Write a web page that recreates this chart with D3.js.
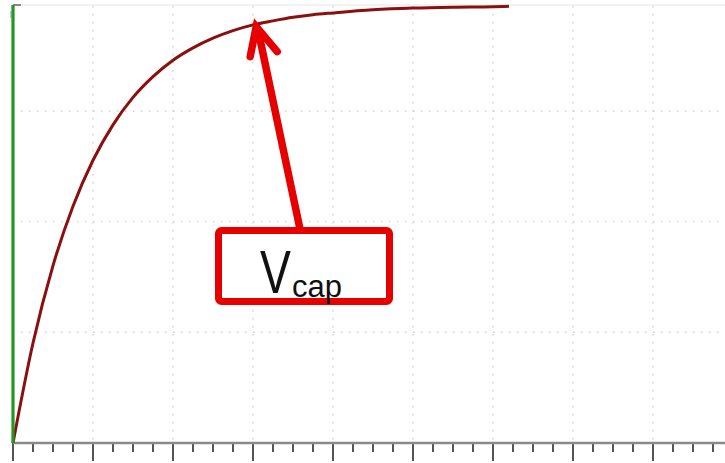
<!DOCTYPE html>
<html><head><meta charset="utf-8">
<script src="https://cdn.jsdelivr.net/npm/d3@7"></script>
<style>html,body{margin:0;padding:0;background:#fff;overflow:hidden}</style>
</head><body>
<svg id="c" width="725" height="463"></svg>
<script>
// time in major-division units, voltage as fraction of full scale
const times = [0,0.25,0.5,0.75,1,1.25,1.5,1.75,2,2.25,2.5,2.75,3,3.25,3.5,3.75,4,4.5,5,5.5,6,6.2];
const vcap  = [0,0.226,0.401,0.535,0.639,0.719,0.781,0.828,0.865,0.893,0.915,0.932,0.945,0.954,0.962,0.968,0.972,0.979,0.983,0.985,0.986,0.987];
const xMajor = [1,2,3,4,5,6,7,8];
const yGrid = [0.25,0.5,0.75];
const labelMain = "V";
const labelSub = "cap";
const arrowTip = {t:3.04, v:vcap[12]+0.005};

const svg = d3.select("#c");
const x = d3.scaleLinear().domain([0,9]).range([13,733]);
const y = d3.scaleLinear().domain([0,1]).range([443,0.5]);
const yTop = 5;

// top border
svg.append("line").attr("x1",x(0)).attr("x2",725).attr("y1",yTop).attr("y2",yTop)
  .attr("stroke","#e4e4e4").attr("stroke-width",1);

// dotted grid
svg.append("g").selectAll("line").data(xMajor).join("line")
  .attr("x1",d=>x(d)).attr("x2",d=>x(d)).attr("y1",yTop+1).attr("y2",y(0)-2)
  .attr("stroke","#c8c8c8").attr("stroke-width",1.2).attr("stroke-dasharray","1.5,6.5");
svg.append("g").selectAll("line").data(yGrid).join("line")
  .attr("x1",x(0)+8).attr("x2",725).attr("y1",d=>y(d)).attr("y2",d=>y(d))
  .attr("stroke","#c8c8c8").attr("stroke-width",1.2).attr("stroke-dasharray","1.5,6.5");

// bottom axis
const axisG = svg.append("g").attr("transform",`translate(0,${y(0)})`);
const minor = d3.range(0,9.01,0.25);
axisG.selectAll("line.t").data(minor).join("line")
  .attr("x1",d=>x(d)).attr("x2",d=>x(d)).attr("y1",0)
  .attr("y2",d=>Math.abs(d-Math.round(d))<1e-6?18:9)
  .attr("stroke","#555").attr("stroke-width",2);
axisG.append("line").attr("x1",x(0)).attr("x2",725).attr("y1",0).attr("y2",0)
  .attr("stroke","#8a8a8a").attr("stroke-width",2.5);

// curve
const pts = times.map((t,i)=>[t,vcap[i]]);
svg.append("path").datum(pts)
  .attr("d",d3.line().x(d=>x(d[0])).y(d=>y(d[1])).curve(d3.curveMonotoneX))
  .attr("fill","none").attr("stroke","#8a0f0f").attr("stroke-width",3);

// green vertical axis
svg.append("line").attr("x1",x(0)).attr("x2",x(0)).attr("y1",yTop).attr("y2",y(0))
  .attr("stroke","#1f9a1f").attr("stroke-width",3.2);
svg.append("line").attr("x1",x(0)).attr("x2",x(0)+8).attr("y1",yTop).attr("y2",yTop)
  .attr("stroke","#666").attr("stroke-width",1.5);
svg.append("line").attr("x1",x(0)-2).attr("x2",x(0)-2).attr("y1",11).attr("y2",18)
  .attr("stroke","#888").attr("stroke-width",1);

// annotation arrow
const tipX = x(arrowTip.t), tipY = y(arrowTip.v)+2;
const red = "#e60000";
const ann = svg.append("g").attr("stroke",red).attr("stroke-width",7.5).attr("stroke-linecap","round").attr("fill","none");
ann.append("line").attr("x1",300).attr("y1",229).attr("x2",tipX+2).attr("y2",tipY+6);
ann.append("path").attr("d",`M${tipX-6},${tipY+32} L${tipX},${tipY+2} L${tipX+21},${tipY+27}`)
  .attr("stroke-linejoin","miter");

// box
svg.append("rect").attr("x",218.5).attr("y",230.5).attr("width",171).attr("height",71).attr("rx",3)
  .attr("fill","#fff").attr("stroke",red).attr("stroke-width",7);
svg.append("text").attr("transform","translate(260,293) scale(0.76,1)")
  .attr("font-family","Liberation Sans, Arial, sans-serif").attr("font-size",61).attr("fill","#111")
  .text(labelMain);
svg.append("text").attr("x",292).attr("y",297)
  .attr("font-family","Liberation Sans, Arial, sans-serif").attr("font-size",31).attr("fill","#111")
  .text(labelSub);
</script>
</body></html>
